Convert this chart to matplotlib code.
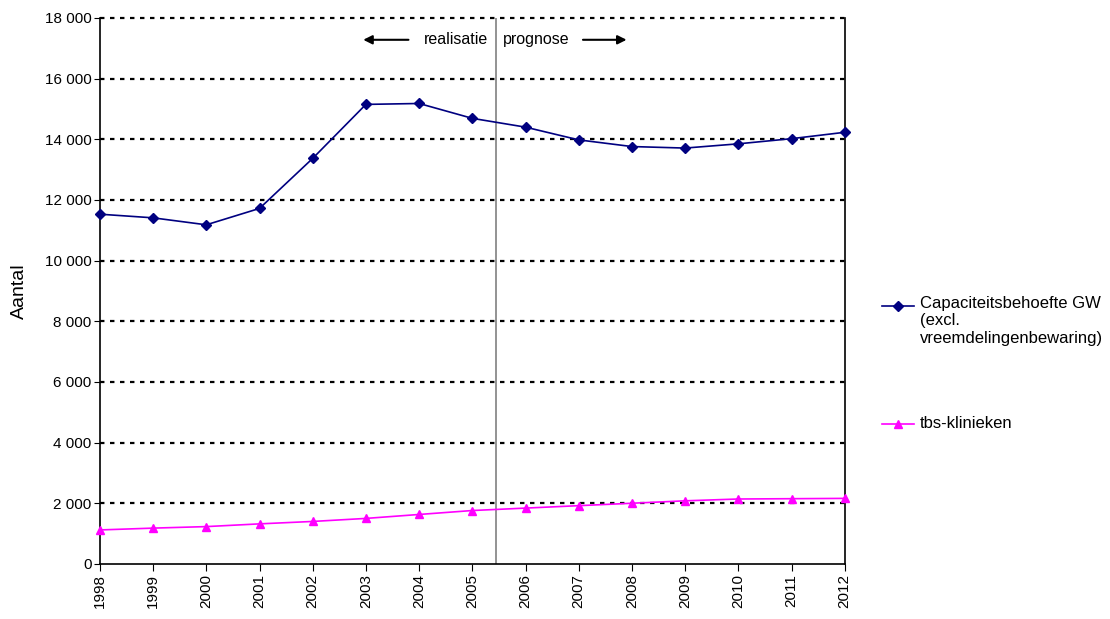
import matplotlib.pyplot as plt
from matplotlib.lines import Line2D
from matplotlib.ticker import FuncFormatter

plt.rcParams['font.family'] = ['Liberation Sans', 'DejaVu Sans']

# Gegevens
jaren = list(range(1998, 2013))
capaciteit_gw = [11530, 11410, 11180, 11720, 13370, 15150, 15180, 14690, 14400,
                 13980, 13760, 13710, 13850, 14020, 14230]
tbs_klinieken = [1120, 1180, 1230, 1320, 1400, 1500, 1630, 1760, 1840,
                 1920, 2000, 2080, 2140, 2150, 2160]
y_ticks = list(range(0, 18001, 2000))
grens_jaar = 2005.45

fig = plt.figure(figsize=(11.1, 6.19), dpi=100)
ax = fig.add_axes([0.090, 0.089, 0.671, 0.882])

# Rasterlijnen
for t in y_ticks[1:]:
    ax.axhline(t, color='black', linestyle=(0, (2, 2.5)), linewidth=1.6,
               zorder=1, clip_on=False)

ax.plot(jaren, capaciteit_gw, color='#000080', marker='D', markersize=5,
        linewidth=1.2, zorder=3, clip_on=False)
ax.plot(jaren, tbs_klinieken, color='#FF00FF', marker='^', markersize=6,
        linewidth=1.2, zorder=3, clip_on=False)

ax.axvline(grens_jaar, color='#808080', linewidth=1.2, zorder=2)

ax.set_xlim(1998, 2012)
ax.set_ylim(0, 18000)
ax.set_xticks(jaren)
ax.set_xticklabels([str(j) for j in jaren], rotation=90, fontsize=11)
ax.set_yticks(y_ticks)
ax.yaxis.set_major_formatter(FuncFormatter(lambda v, p: f'{int(v):,}'.replace(',', ' ')))
ax.tick_params(axis='y', labelsize=11, length=4, pad=2, direction='out')
ax.tick_params(axis='x', length=5, pad=2, direction='out')
ax.set_ylabel('Aantal', fontsize=14, labelpad=12)

ax.spines['top'].set_visible(False)
for s in ['left', 'bottom', 'right']:
    ax.spines[s].set_linewidth(1.2)

# Realisatie / prognose
ax.text(2005.30, 17280, 'realisatie', ha='right', va='center', fontsize=11.5)
ax.text(2005.58, 17280, 'prognose', ha='left', va='center', fontsize=11.5)
ax.annotate('', xy=(2002.95, 17280), xytext=(2003.8, 17280),
            arrowprops=dict(arrowstyle='-|>', color='black', lw=1.5, mutation_scale=13,
                            shrinkA=0, shrinkB=0))
ax.annotate('', xy=(2007.9, 17280), xytext=(2007.08, 17280),
            arrowprops=dict(arrowstyle='-|>', color='black', lw=1.5, mutation_scale=13,
                            shrinkA=0, shrinkB=0))

# Legenda
y1 = 1 - 306 / 619
y2 = 1 - 424 / 619
fig.add_artist(Line2D([0.795, 0.809, 0.823], [y1] * 3, color='#000080',
                      marker='D', markersize=5, markevery=[1], linewidth=1.2))
fig.text(0.829, y1 + 0.016, 'Capaciteitsbehoefte GW\n(excl.\nvreemdelingenbewaring)',
         ha='left', va='top', fontsize=12, linespacing=1.2)
fig.add_artist(Line2D([0.795, 0.809, 0.823], [y2] * 3, color='#FF00FF',
                      marker='^', markersize=6, markevery=[1], linewidth=1.2))
fig.text(0.829, y2, 'tbs-klinieken', ha='left', va='center', fontsize=12)

fig.savefig('out.png', dpi=100)
